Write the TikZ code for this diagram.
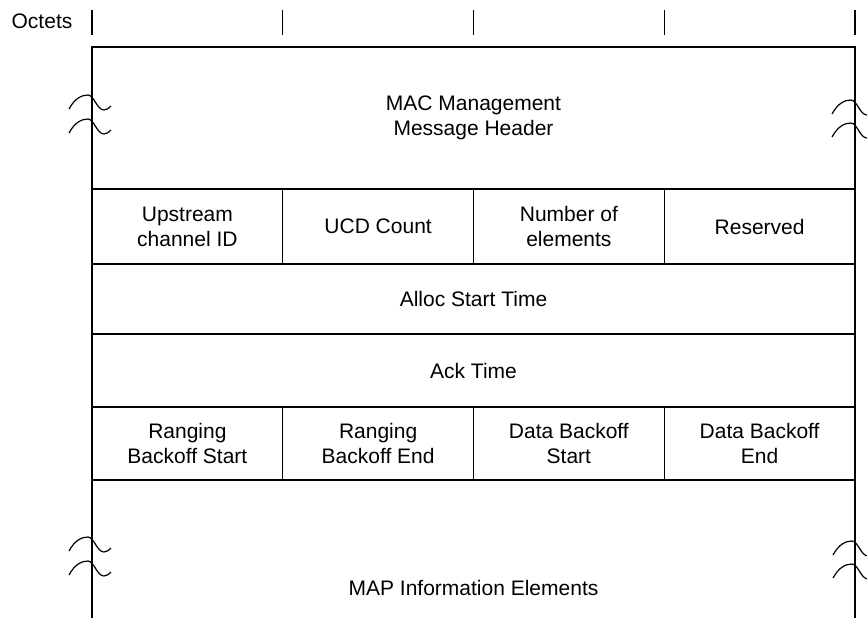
\documentclass[tikz,border=0pt]{standalone}
\usepackage{fontspec}
\setmainfont{Liberation Sans}
\usetikzlibrary{positioning}

\tikzset{
  cell/.style={draw,align=center,inner sep=0pt,outer sep=0pt,
    minimum width=95.375pt,minimum height=37.5pt},
  brk/.pic={\draw (-19,14) .. controls (-13,3) and (-6,0) .. (0,0)
    .. controls (6,0) and (9,15) .. (16,15) .. controls (19,15) and (21,13) .. (23,11);}
}

\begin{document}
\begin{tikzpicture}[x=0.5pt,y=-0.5pt,line width=0.6pt,
    font=\fontsize{10.5}{12.5}\selectfont]

\useasboundingbox (0,0) rectangle (867,618);

\node (oct) at (42,21) {Octets};
\foreach \x in {92,282.75,473.5,664.25,855}
    \draw (\x,10) -- (\x,35);

\node[cell,minimum width=381.5pt,minimum height=71pt] (hdr) at (473.5,118) {MAC Management\\Message Header};

\node[cell] (uid) [below right=0pt and 0pt of hdr.south west] {Upstream\\channel ID};
\node[cell] (ucd) [right=0pt of uid] {UCD Count};
\node[cell] (noe) [right=0pt of ucd] {Number of\\elements};
\node[cell] (rsv) [right=0pt of noe] {Reserved};

\node[cell,minimum width=381.5pt,minimum height=35pt] (ast) [below right=0pt and 0pt of uid.south west] {Alloc Start Time};
\node[cell,minimum width=381.5pt,minimum height=36.5pt] (ack) [below right=0pt and 0pt of ast.south west] {Ack Time};

\node[cell,minimum height=36.5pt] (rbs) [below right=0pt and 0pt of ack.south west] {Ranging\\Backoff Start};
\node[cell,minimum height=36.5pt] (rbe) [right=0pt of rbs] {Ranging\\Backoff End};
\node[cell,minimum height=36.5pt] (dbs) [right=0pt of rbe] {Data Backoff\\Start};
\node[cell,minimum height=36.5pt] (dbe) [right=0pt of dbs] {Data Backoff\\End};

\node[cell,draw=none,minimum width=381.5pt,minimum height=69pt] (map) [below right=0pt and 0pt of rbs.south west] {};
\draw (map.north west) -- (map.south west);
\draw (map.north east) -- (map.south east);
\node (maptxt) at ([yshift=-19.5pt]map.center) {MAP Information Elements};

% break marks
\foreach \x/\y in {88/95, 88/119, 851/100, 851/123, 88/537, 88/561, 852/541, 852/564}
    \pic at (\x,\y) {brk};

\end{tikzpicture}
\end{document}
